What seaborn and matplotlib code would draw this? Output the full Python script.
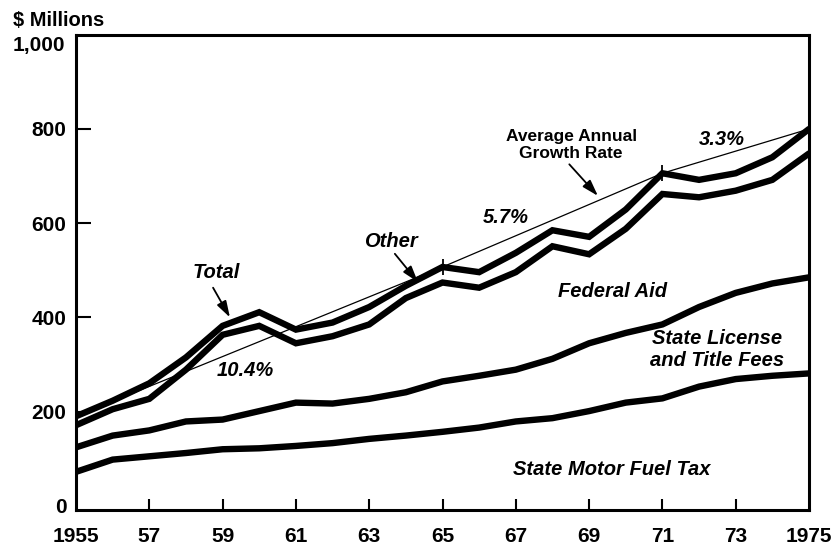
import matplotlib
matplotlib.use("Agg")
import matplotlib.pyplot as plt
import matplotlib.transforms as mtransforms
import seaborn as sns
import pandas as pd

# ---- data ($ millions) ----
years = list(range(1955, 1976))
fuel_tax = [72, 98, 105, 112, 120, 122, 127, 133, 142, 149, 157,
            166, 179, 186, 201, 219, 228, 253, 269, 276, 281]
license_fees = [124, 149, 160, 179, 183, 201, 219, 217, 227, 241, 264,
                276, 289, 312, 345, 367, 385, 422, 452, 472, 485]
federal_aid = [171, 205, 227, 289, 363, 382, 345, 360, 385, 441, 474,
               463, 496, 551, 534, 588, 662, 655, 669, 692, 748]
total = [190, 223, 260, 315, 382, 411, 374, 389, 422, 467, 507,
         496, 537, 585, 571, 629, 706, 692, 706, 740, 800]

growth_years = [1955, 1965, 1971, 1975]
growth_values = [190, 507, 706, 800]
growth_mark_years = [1965, 1971]
growth_mark_values = [507, 706]

x_tick_values = [1955, 1957, 1959, 1961, 1963, 1965, 1967, 1969, 1971, 1973, 1975]
x_tick_labels = ["1955", "57", "59", "61", "63", "65", "67", "69", "71", "73", "1975"]
y_tick_values = [0, 200, 400, 600, 800, 1000]
y_tick_labels = ["0", "200", "400", "600", "800", "1,000"]

# ---- style ----
sns.set_theme(style="ticks")
plt.rcParams["font.family"] = ["Liberation Sans", "DejaVu Sans"]
plt.rcParams["font.weight"] = "bold"
for k in ["text.color", "axes.labelcolor", "xtick.color", "ytick.color",
          "xtick.labelcolor", "ytick.labelcolor", "axes.edgecolor"]:
    plt.rcParams[k] = "black"

fig = plt.figure(figsize=(8.39, 5.46), dpi=100)
ax = fig.add_axes([76 / 839, 1 - 510 / 546, (809 - 76) / 839, (510 - 34.8) / 546])

df = pd.DataFrame({"year": years, "fuel": fuel_tax, "license": license_fees,
                   "federal": federal_aid, "total": total})
gdf = pd.DataFrame({"year": growth_years, "value": growth_values})

# thin average-growth line
sns.lineplot(data=gdf, x="year", y="value", ax=ax, color="black", lw=0.9, zorder=2)
ax.plot(growth_mark_years, growth_mark_values, ls="none", marker="|",
        markersize=11, markeredgewidth=1.3, color="black", zorder=4)

for col in ["fuel", "license", "federal", "total"]:
    sns.lineplot(data=df, x="year", y=col, ax=ax, color="black", lw=4.6,
                 zorder=3, solid_joinstyle="miter")

ax.set_xlim(1955, 1975)
ax.set_ylim(-9, 1000)
ax.set_xlabel("")
ax.set_ylabel("")

for side in ["left", "right", "top", "bottom"]:
    ax.spines[side].set_visible(True)
    ax.spines[side].set_linewidth(2.2)
    ax.spines[side].set_color("black")

ax.set_xticks(x_tick_values, x_tick_labels)
ax.set_yticks(y_tick_values, y_tick_labels[:-1] + [""])
ax.tick_params(axis="x", direction="in", length=8, width=1.5, pad=12,
               labelsize=15, colors="black")
ax.tick_params(axis="y", direction="in", length=11, width=1.5, pad=7,
               labelsize=15, colors="black")
for t in [ax.xaxis.get_major_ticks()[0], ax.xaxis.get_major_ticks()[-1],
          ax.yaxis.get_major_ticks()[0], ax.yaxis.get_major_ticks()[-1]]:
    t.tick1line.set_visible(False)
for lab in ax.get_xticklabels() + ax.get_yticklabels():
    lab.set_fontweight("bold")

# top y label sits a little below the frame line in the reference
blend = mtransforms.blended_transform_factory(ax.transAxes, ax.transData)
ax.text(-0.0145, 978, y_tick_labels[-1], transform=blend, ha="right", va="center",
        fontsize=15, fontweight="bold")

fig.text(13 / 839, 1 - 21 / 546, "$ Millions", ha="left", va="center",
         fontsize=14.5, fontweight="bold")

# ---- labels and arrows ----
it = dict(fontsize=14.5, fontstyle="italic", fontweight="bold", ha="center", va="center")
ax.text(1958.82, 496, "Total", **it)
ax.text(1963.6, 562, "Other", **it)
ax.text(1959.61, 287, "10.4%", **it)
ax.text(1966.72, 612, "5.7%", **it)
ax.text(1972.61, 778, "3.3%", **it)
ax.text(1969.65, 455, "Federal Aid", **it)
ax.text(1972.49, 332, "State License\nand Title Fees", linespacing=1.15, **it)
ax.text(1969.63, 77, "State Motor Fuel Tax", **it)
ax.text(1968.51, 766, "Average Annual\nGrowth Rate", fontsize=12.5, fontweight="bold",
        ha="center", va="center", linespacing=1.1)

arrow = dict(arrowstyle="-|>,head_length=0.7,head_width=0.22", color="black",
             lw=1.3, mutation_scale=14, shrinkA=0, shrinkB=0)
ax.annotate("", xy=(1959.2, 400), xytext=(1958.74, 463), arrowprops=arrow)
ax.annotate("", xy=(1964.33, 475), xytext=(1963.70, 535), arrowprops=arrow)
ax.annotate("", xy=(1969.24, 658), xytext=(1968.46, 725), arrowprops=arrow)

fig.savefig("out.png", dpi=100, facecolor="white")
